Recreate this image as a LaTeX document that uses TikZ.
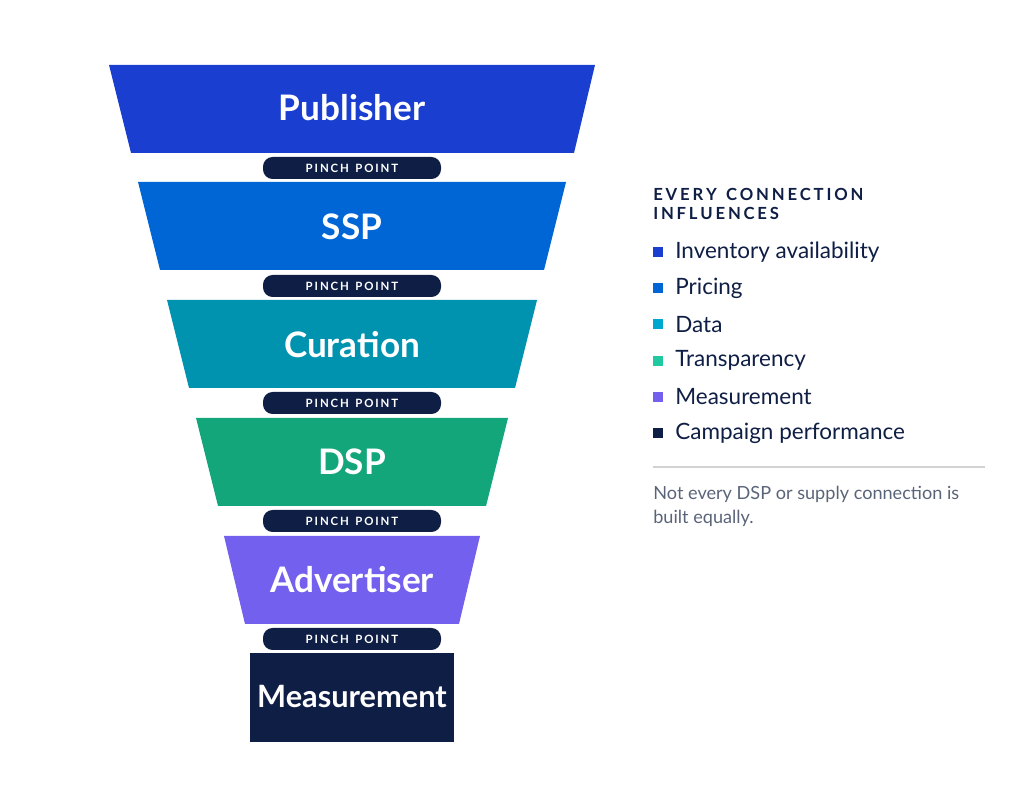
\documentclass[tikz,border=0pt]{standalone}
\usepackage{fontspec}
\setmainfont{Lato}
\usetikzlibrary{positioning}
\definecolor{cPub}{HTML}{1A3FD0}
\definecolor{cSsp}{HTML}{0066D6}
\definecolor{cCur}{HTML}{0093B0}
\definecolor{cDsp}{HTML}{13A67A}
\definecolor{cAdv}{HTML}{7360EE}
\definecolor{cNavy}{HTML}{0F1E45}
\definecolor{cData}{HTML}{00A8D0}
\definecolor{cTrans}{HTML}{20C9A0}
\definecolor{cNote}{HTML}{5A6478}
\tikzset{
stage/.style={font=\bfseries\fontsize{20}{22}\selectfont, text=white},
pinch/.style={fill=cNavy, rounded corners=5.5pt, minimum width=3.56cm, minimum height=0.44cm, inner sep=0pt, text=white, font=\bfseries\fontsize{6.5}{7}\selectfont},
bullet/.style={fill=#1, minimum size=0.2cm, inner sep=0pt},
item/.style={right, text=cNavy, font=\fontsize{12.8}{14}\selectfont, inner sep=0pt},
}
\newcommand{\trap}[6]{% colour, ytop, xtl, xtr, xbl, xbr
  \fill[#1] (#3/50,-#2/50) -- (#4/50,-#2/50) -- (#6/50,-#2/50-1.76) -- (#5/50,-#2/50-1.76) -- cycle;}
\begin{document}
\begin{tikzpicture}
\useasboundingbox (0,0) rectangle (20.48,-15.88);
% funnel
\trap{cPub}{65}{109}{595}{131}{574}
\trap{cSsp}{182}{138}{566}{160}{544}
\trap{cCur}{300}{167}{537}{189}{515}
\trap{cDsp}{418}{196}{508}{218}{486}
\trap{cAdv}{536}{224}{480}{245}{459}
\fill[cNavy] (5.00,-13.06) rectangle (9.08,-14.84);
\node[stage] (pub) at (7.04,-2.16) {Publisher};
\node[stage] (ssp) at (7.04,-4.54) {SSP};
\node[stage] (cur) at (7.04,-6.90) {Curation};
\node[stage] (dsp) at (7.04,-9.24) {DSP};
\node[stage] (adv) at (7.04,-11.60) {Advertiser};
\node[stage, font=\bfseries\fontsize{17.5}{20}\selectfont] (mea) at (7.04,-13.94) {Measurement};
\foreach \y [count=\i] in {3.36,5.72,8.06,10.42,12.78}
  \node[pinch] (pp\i) at (7.04,-\y) {P\,I\,N\,C\,H\;\;P\,O\,I\,N\,T};
% legend
\node[right, inner sep=0pt, text=cNavy, font=\bfseries\fontsize{9.5}{11}\selectfont, align=left] (title) at (13.06,-4.08)
  {E\,V\,E\,R\,Y\;\;C\,O\,N\,N\,E\,C\,T\,I\,O\,N\\I\,N\,F\,L\,U\,E\,N\,C\,E\,S};
\foreach \c/\t [count=\i] in {cPub/Inventory availability, cSsp/Pricing, cData/Data, cTrans/Transparency, cAdv/Measurement, cNavy/Campaign performance}{
  \node[bullet=\c] (b\i) at (13.16,-5.04-0.724*\i+0.724) {};
  \node[item] (t\i) at (13.5,-5.04-0.724*\i+0.724) {\t};
}
\draw[gray!35, line width=0.6pt] (13.06,-9.34) -- (19.70,-9.34);
\node[right, inner sep=0pt, text=cNote, font=\fontsize{10.3}{13.5}\selectfont, align=left, anchor=north west] (note) at (13.06,-9.72)
  {Not every DSP or supply connection is\\built equally.};
\end{tikzpicture}
\end{document}
